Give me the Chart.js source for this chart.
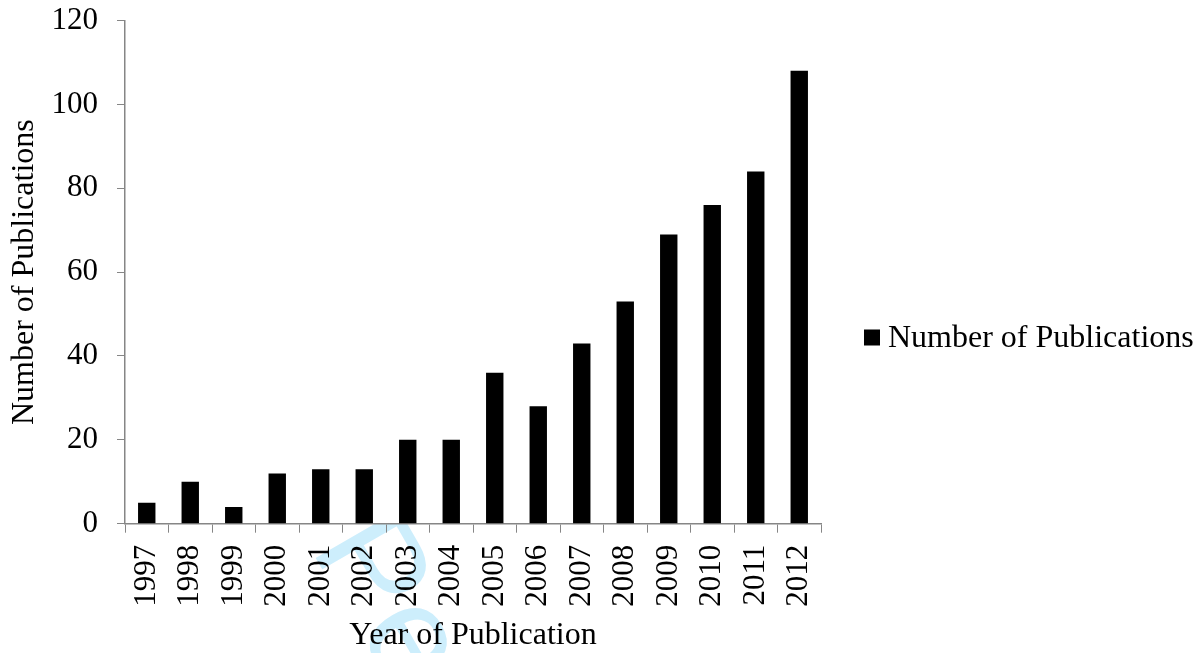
<!DOCTYPE html>
<html>
<head>
<meta charset="utf-8">
<script src="https://cdn.jsdelivr.net/npm/chart.js@4.4.1/dist/chart.umd.min.js"></script>
<style>
  html, body { margin: 0; padding: 0; background: #ffffff; }
  #wrap { width: 1201px; height: 653px; }
</style>
</head>
<body>
<div id="wrap"><canvas id="chart" width="1201" height="653"></canvas></div>
<script>
// Publications per year
const years = ['1997', '1998', '1999', '2000', '2001', '2002', '2003', '2004',
               '2005', '2006', '2007', '2008', '2009', '2010', '2011', '2012'];
const publications = [5, 10, 4, 12, 13, 13, 20, 20, 36, 28, 43, 53, 69, 76, 84, 108];
const yTickValues = [0, 20, 40, 60, 80, 100, 120];
const seriesName = 'Number of Publications';
const xTitle = 'Year of Publication';
const yTitle = 'Number of Publications';
const watermarkText = 'Peer Review';

const SERIF = '"Liberation Serif", "Times New Roman", Times, serif';
const AXIS_GREY = '#868686';

Chart.defaults.font.family = SERIF;
Chart.defaults.color = '#000000';

// Faint page watermark behind the chart; the plot area itself is filled white.
const backdrop = {
  id: 'backdrop',
  beforeDraw(chart) {
    const { ctx, chartArea } = chart;
    ctx.save();
    ctx.translate(310, 548);
    ctx.rotate(60 * Math.PI / 180);
    ctx.font = '140px "Liberation Sans", Arial, sans-serif';
    ctx.fillStyle = '#cdeefc';
    ctx.textBaseline = 'alphabetic';
    ctx.fillText(watermarkText, 0, 0);
    ctx.restore();

    ctx.save();
    ctx.fillStyle = '#ffffff';
    ctx.fillRect(chartArea.left, chartArea.top,
                 chartArea.right - chartArea.left, chartArea.bottom - chartArea.top);
    ctx.restore();
  }
};

// Single-entry legend on the right side
const sideLegend = {
  id: 'sideLegend',
  afterDraw(chart) {
    const { ctx } = chart;
    const ds = chart.data.datasets[0];
    ctx.save();
    ctx.fillStyle = ds.backgroundColor;
    ctx.fillRect(864, 329.5, 16, 16);
    ctx.fillStyle = '#000000';
    ctx.font = '32px ' + SERIF;
    ctx.textAlign = 'left';
    ctx.textBaseline = 'alphabetic';
    ctx.fillText(ds.label, 888, 346.5);
    ctx.restore();
  }
};

new Chart(document.getElementById('chart'), {
  type: 'bar',
  data: {
    labels: years,
    datasets: [{
      label: seriesName,
      data: publications,
      backgroundColor: '#000000',
      borderWidth: 0,
      categoryPercentage: 1.0,
      barPercentage: 0.4
    }]
  },
  options: {
    responsive: false,
    animation: false,
    devicePixelRatio: 1,
    layout: { padding: { left: 0, right: 380, top: 19.7, bottom: 0 } },
    plugins: {
      legend: { display: false },
      tooltip: { enabled: false }
    },
    scales: {
      x: {
        grid: {
          display: true,
          drawOnChartArea: false,
          offset: true,
          color: AXIS_GREY,
          lineWidth: 1,
          tickLength: 9
        },
        border: { display: true, color: AXIS_GREY, width: 1.5 },
        ticks: {
          autoSkip: false,
          minRotation: 90,
          maxRotation: 90,
          padding: 12,
          color: '#000000',
          font: { size: 31, family: SERIF }
        },
        title: {
          display: true,
          text: xTitle,
          color: '#000000',
          font: { size: 32, family: SERIF, lineHeight: 1 },
          padding: { top: 0, bottom: 1 }
        },
        afterFit(scale) { scale.height = 653 - 523.7; }
      },
      y: {
        min: 0,
        max: 120,
        afterBuildTicks(scale) {
          scale.ticks = yTickValues.map(v => ({ value: v }));
        },
        grid: {
          display: true,
          drawOnChartArea: false,
          color: AXIS_GREY,
          lineWidth: 1,
          tickLength: 8
        },
        border: { display: true, color: AXIS_GREY, width: 1.5 },
        ticks: {
          padding: 19,
          color: '#000000',
          font: { size: 31, family: SERIF, lineHeight: 0.1 }
        },
        title: {
          display: true,
          text: yTitle,
          color: '#000000',
          font: { size: 32, family: SERIF, lineHeight: 1.2 },
          padding: { top: 5.5, bottom: 0 }
        },
        afterFit(scale) { scale.width = 125; }
      }
    }
  },
  plugins: [backdrop, sideLegend]
});
</script>
</body>
</html>
